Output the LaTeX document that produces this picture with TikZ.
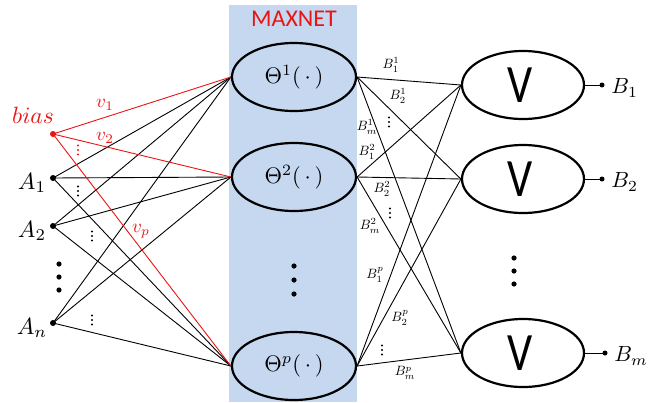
\documentclass[tikz,border=0pt]{standalone}
\usepackage{fontspec}
\newfontfamily\carlito{Carlito}
\usetikzlibrary{shapes.geometric}
\definecolor{mblue}{RGB}{197,216,240}
\definecolor{mred}{RGB}{235,20,20}
\tikzset{
  theta/.style={ellipse,draw,line width=2.2pt,minimum width=124pt,minimum height=68pt,inner sep=0pt},
  vnode/.style={ellipse,draw,line width=2.2pt,minimum width=122pt,minimum height=68pt,inner sep=0pt},
  vtext/.style={font=\carlito\fontsize{54}{56}\selectfont,xscale=0.82,inner sep=0pt},
  ttext/.style={scale=2.25,inner sep=0pt},
  inp/.style={circle,fill,inner sep=0pt,minimum size=6pt},
  wire/.style={line width=0.9pt},
  lab/.style={scale=2.35,inner sep=0pt},
  vlab/.style={scale=1.9,inner sep=0pt,text=mred},
  wlab/.style={scale=1.35,inner sep=0pt},
  olab/.style={scale=2.2,inner sep=0pt,anchor=west},
}
\newcommand{\vdotsmall}[3]{\foreach \k in {-1,0,1}{\fill[#3] (#1,#2+\k*4.5) circle (1.1pt);}}
\begin{document}
\begin{tikzpicture}[x=1pt,y=-1pt]
\useasboundingbox (0,0) rectangle (669,402);
\fill[mblue] (229,5) rectangle (357,402);
\node[text=mred,font=\carlito\fontsize{24}{26}\selectfont] (title) at (294,19) {MAXNET};

% hidden layer
\node[theta] (t1) at (294,77) {};
\node[theta] (t2) at (294,177) {};
\node[theta] (tp) at (294,366) {};
\node[ttext] (tt1) at (t1.center) {$\Theta^1(\,\cdot\,)$};
\node[ttext] (tt2) at (t2.center) {$\Theta^2(\,\cdot\,)$};
\node[ttext] (ttp) at (tp.center) {$\Theta^p(\,\cdot\,)$};
\foreach \yy in {266,280,294}{\fill (294,\yy) circle (2.6pt);}

% output layer
\node[vnode] (o1) at (523,85) {};
\node[vnode] (o2) at (523,179) {};
\node[vnode] (om) at (523,353) {};
\node[vtext] (vt1) at (520,85) {V};
\node[vtext] (vt2) at (520,179) {V};
\node[vtext] (vtm) at (520,353) {V};
\foreach \yy in {258,271,284}{\fill (514,\yy) circle (2.6pt);}

% inputs
\node[inp,fill=mred] (bias) at (53,134) {};
\node[inp] (a1) at (53,178) {};
\node[inp] (a2) at (53,226) {};
\node[inp] (an) at (53,323) {};
\foreach \yy in {264,277,290}{\fill (59,\yy) circle (2.6pt);}
\node[lab,text=mred] (bl) at (33,115) {$bias$};
\node[lab] (l1) at (32,183) {$A_1$};
\node[lab] (l2) at (32,231) {$A_2$};
\node[lab] (ln) at (32,328) {$A_n$};

% input wires
\foreach \s in {a1,a2,an}{
  \foreach \t in {t1,t2,tp}{\draw[wire] (\s.center) -- (\t.west);}
}
\draw[wire,mred] (bias.center) -- (t1.west);
\draw[wire,mred] (bias.center) -- (t2.west);
\draw[wire,mred] (bias.center) -- (tp.west);
\node[vlab] (v1) at (105,105) {$v_1$};
\node[vlab] (v2) at (105,138) {$v_2$};
\node[vlab] (vp) at (141,231) {$v_p$};
\vdotsmall{78}{150}{mred}
\vdotsmall{78}{191}{black}
\vdotsmall{92}{236}{black}
\vdotsmall{92}{320}{black}

% hidden to output wires
\foreach \s in {t1,t2,tp}{
  \foreach \t in {o1,o2,om}{\draw[wire] (\s.east) -- (\t.west);}
}
\node[wlab] (w11) at (391,65) {$B_1^1$};
\node[wlab] (w21) at (398,96) {$B_2^1$};
\vdotsmall{389}{122}{black}
\node[wlab] (wm1) at (367,127) {$B_m^1$};
\node[wlab] (w12) at (367,152) {$B_1^2$};
\node[wlab] (w22) at (382,189) {$B_2^2$};
\vdotsmall{390}{213}{black}
\node[wlab] (wm2) at (370,226) {$B_m^2$};
\node[wlab] (w1p) at (375,275) {$B_1^p$};
\node[wlab] (w2p) at (400,318) {$B_2^p$};
\vdotsmall{382}{350}{black}
\node[wlab] (wmp) at (405,373) {$B_m^p$};

% outputs
\node[inp,minimum size=5pt] (d1) at (602,85) {};
\node[inp,minimum size=5pt] (d2) at (602,179) {};
\node[inp,minimum size=5pt] (dm) at (605,353) {};
\draw[wire] (o1.east) -- (d1.center);
\draw[wire] (o2.east) -- (d2.center);
\draw[wire] (om.east) -- (dm.center);
\node[olab] (b1) at (611,88) {$B_1$};
\node[olab] (b2) at (611,182) {$B_2$};
\node[olab] (bm) at (614,356) {$B_m$};
\end{tikzpicture}
\end{document}
